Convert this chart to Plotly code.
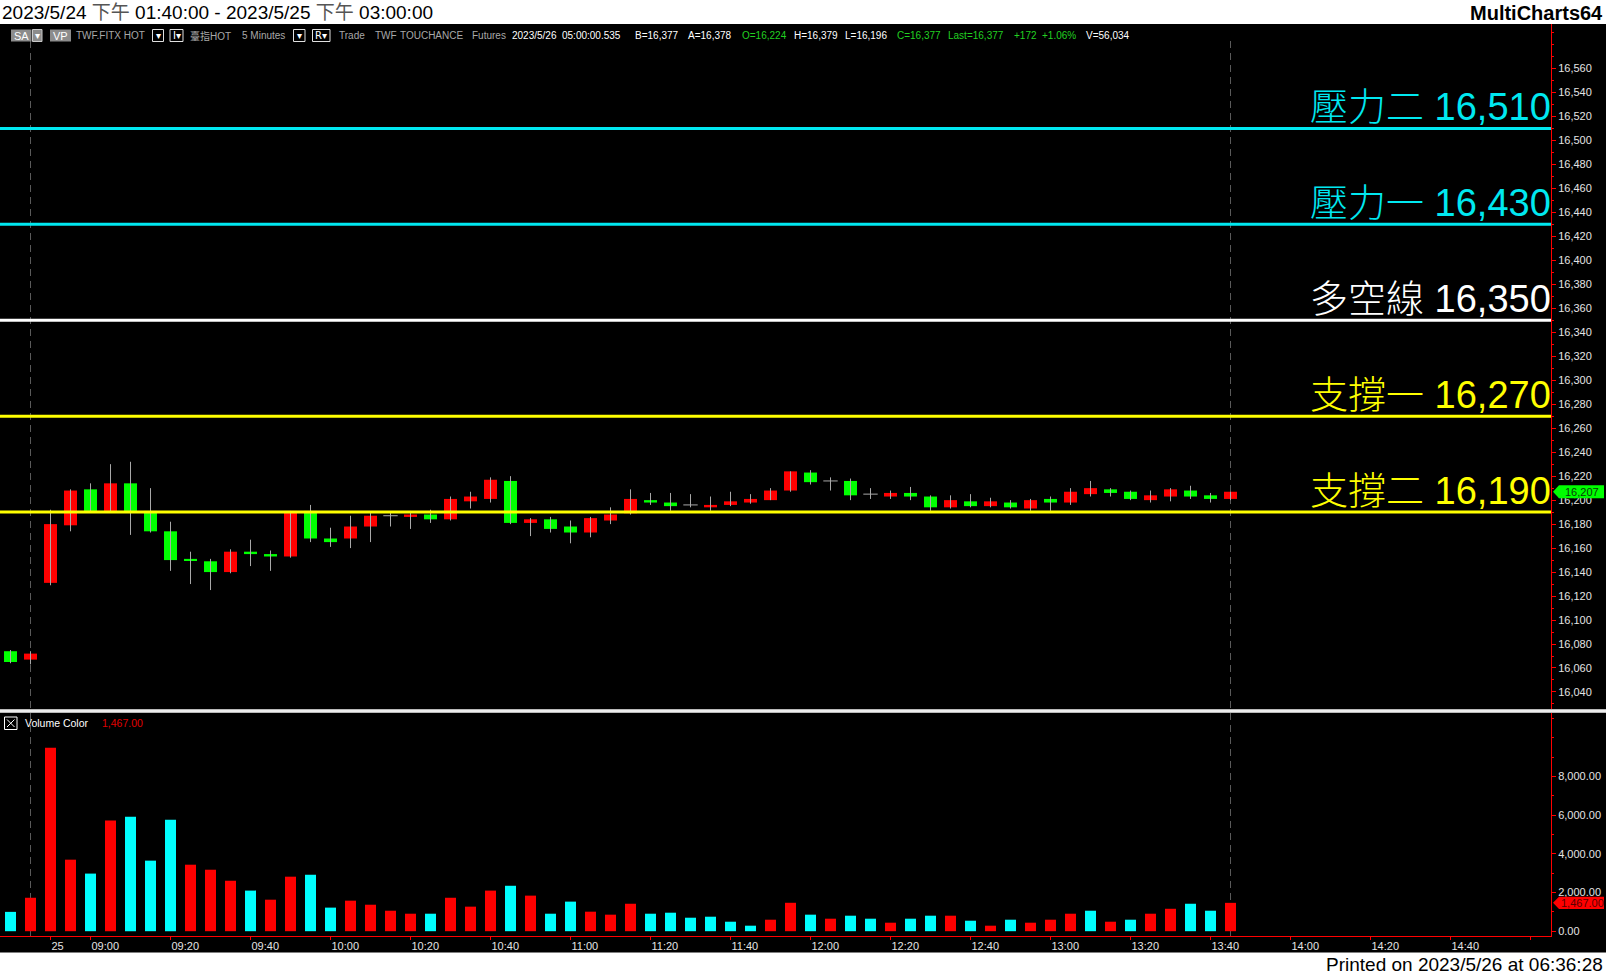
import plotly.graph_objects as go

# ---------------- data ----------------
opens = [16074,16067,16131,16179,16209,16191,16214,16191,16174,16151,
         16149,16140,16157,16155,16153,16191,16168,16168,16178,16187,
         16186,16188,16184,16199,16201,16216,16181,16184,16178,16173,
         16183,16189,16200,16198,16196,16194,16196,16198,16200,16208,
         16223,16216,16216,16205,16203,16206,16203,16194,16199,16195,
         16198,16193,16201,16198,16205,16209,16207,16200,16203,16208,
         16204,16201]
highs = [16075,16074,16192,16209,16214,16230,16232,16210,16182,16157,
         16151,16159,16167,16158,16191,16196,16177,16187,16190,16190,
         16191,16192,16203,16207,16219,16220,16185,16186,16183,16186,
         16194,16209,16206,16206,16205,16203,16207,16205,16210,16224,
         16225,16219,16218,16210,16208,16211,16204,16204,16205,16202,
         16200,16201,16203,16210,16216,16210,16208,16208,16210,16212,
         16206,16207]
lows = [16064,16063,16129,16174,16190,16190,16171,16173,16141,16130,
        16125,16139,16145,16141,16152,16165,16161,16160,16165,16178,
        16176,16181,16183,16193,16198,16180,16170,16173,16164,16169,
        16180,16188,16196,16191,16194,16191,16195,16197,16200,16207,
        16213,16208,16200,16201,16201,16200,16191,16193,16194,16194,
        16193,16191,16191,16196,16203,16203,16200,16198,16199,16201,
        16198,16200]
closes = [16065,16072,16180,16208,16191,16214,16191,16174,16150,16150,
          16140,16157,16155,16153,16191,16168,16165,16178,16187,16187,
          16188,16184,16201,16203,16217,16181,16184,16176,16173,16185,
          16188,16201,16198,16195,16196,16196,16199,16201,16208,16224,
          16215,16216,16204,16205,16206,16203,16194,16200,16195,16199,
          16194,16200,16198,16207,16210,16206,16201,16204,16209,16203,
          16201,16207]
volumes = [1000,1730,9490,3700,2980,5720,5920,3650,5770,3440,
           3180,2610,2100,1630,2820,2920,1220,1580,1370,1060,
           905,905,1730,1270,2100,2350,1840,905,1530,1010,
           855,1420,905,957,698,750,491,285,595,1470,
           855,647,802,647,440,647,802,802,543,285,
           595,440,595,905,1060,491,595,905,1160,1420,
           1060,1467]
vol_up = [0,1,1,1,0,1,0,0,0,1,
          1,1,0,1,1,0,0,1,1,1,
          1,0,1,1,1,0,1,0,0,1,
          1,1,0,0,0,0,0,0,1,1,
          0,1,0,0,1,0,0,1,0,1,
          0,1,1,1,0,1,0,1,1,0,
          0,1]
session_ends = [1, 61]
tick_idx = [2, 4, 8, 12, 16, 20, 24, 28, 32, 36, 40, 44, 48, 52, 56, 60, 64, 68, 72, 76]
tick_text = ["25", "09:00", "09:20", "09:40", "10:00", "10:20", "10:40", "11:00", "11:20",
             "11:40", "12:00", "12:20", "12:40", "13:00", "13:20", "13:40", "14:00", "14:20",
             "14:40", ""]
price_ticks = [16040,16060,16080,16100,16120,16140,16160,16180,16200,16220,16240,16260,16280,
               16300,16320,16340,16360,16380,16400,16420,16440,16460,16480,16500,16520,16540,16560]
vol_ticks = [0, 2000, 4000, 6000, 8000]
levels = [16510, 16430, 16350, 16270, 16190]
level_names = ["壓力二", "壓力一", "多空線", "支撐一", "支撐二"]
level_colors = ["#00e8f0", "#00e8f0", "#ffffff", "#ffff00", "#ffff00"]
last_price = closes[-1]
last_volume = volumes[-1]

# ---------------- layout helpers ----------------
W, H = 1606, 976
def fx(px): return px / W
def fy(py): return 1 - py / H

AXIS_X = 1551
X_RANGE = [-0.525, 77.025]
P_TOP, P_BOT = 24, 709
V_TOP, V_BOT = 713, 936
price_range = [16025.8, 16597.1]
vol_range = [-248, 11286]
p_ppu = (P_BOT - P_TOP) / (price_range[1] - price_range[0])
v_ppu = (V_BOT - V_TOP) / (vol_range[1] - vol_range[0])

RED, GREEN, CYAN, GRAY = "#ff0000", "#00ff00", "#00ffff", "#a8a8a8"
AX_FONT = dict(family="Liberation Sans, Arial", size=11, color="#e4e4e4")

idx = list(range(len(opens)))
body_base = [min(o, c) for o, c in zip(opens, closes)]
body_h = [abs(c - o) for o, c in zip(opens, closes)]
body_col = [RED if c > o else GREEN for o, c in zip(opens, closes)]

wx, wy = [], []
for i, (hh, ll, o, c) in enumerate(zip(highs, lows, opens, closes)):
    wx += [i, i, None]
    wy += [ll, hh, None]
    if o == c:
        wx += [i - 0.36, i + 0.36, None]
        wy += [o, o, None]

fig = go.Figure()
fig.add_trace(go.Scatter(x=wx, y=wy, mode="lines", line=dict(color=GRAY, width=1),
                         xaxis="x", yaxis="y", hoverinfo="skip"))
fig.add_trace(go.Bar(x=idx, y=body_h, base=body_base, width=0.65,
                     marker=dict(color=body_col, line=dict(width=0)), xaxis="x", yaxis="y"))
fig.add_trace(go.Bar(x=idx, y=volumes, width=0.55,
                     marker=dict(color=[RED if u else CYAN for u in vol_up], line=dict(width=0)),
                     xaxis="x", yaxis="y2"))

shapes = []
shapes.append(dict(type="rect", xref="paper", yref="paper", x0=0, x1=1, y0=fy(952.5), y1=fy(24),
                   fillcolor="black", line=dict(width=0), layer="below"))
for s in session_ends:
    shapes.append(dict(type="line", xref="x", yref="paper", x0=s, x1=s, y0=fy(V_BOT), y1=fy(P_TOP + 14),
                       line=dict(color="#5a5a5a", width=1, dash="7px,5px"), layer="below"))
shapes.append(dict(type="line", xref="paper", yref="paper", x0=0, x1=1, y0=fy(711), y1=fy(711),
                   line=dict(color="#b8b8b8", width=4)))
shapes.append(dict(type="line", xref="paper", yref="paper", x0=0, x1=1, y0=fy(711), y1=fy(711),
                   line=dict(color="#ffffff", width=1.5)))
for lv, col in zip(levels, level_colors):
    shapes.append(dict(type="line", xref="x domain", yref="y", x0=0, x1=1, y0=lv, y1=lv,
                       line=dict(color=col, width=3)))
hp = 6.5 / p_ppu
shapes.append(dict(type="path", xref="paper", yref="y",
                   path=f"M {fx(1553)} {last_price} L {fx(1559)} {last_price + hp} L {fx(1604)} {last_price + hp} "
                        f"L {fx(1604)} {last_price - hp} L {fx(1559)} {last_price - hp} Z",
                   fillcolor=GREEN, line=dict(width=0)))
hv = 6.2 / v_ppu
shapes.append(dict(type="path", xref="paper", yref="y2",
                   path=f"M {fx(1553)} {last_volume} L {fx(1559)} {last_volume + hv} L {fx(1604)} {last_volume + hv} "
                        f"L {fx(1604)} {last_volume - hv} L {fx(1559)} {last_volume - hv} Z",
                   fillcolor=RED, line=dict(width=0)))
def prect(x0, x1, y0, y1, fill=None, line=None):
    shapes.append(dict(type="rect", xref="paper", yref="paper", x0=fx(x0), x1=fx(x1), y0=fy(y1), y1=fy(y0),
                       fillcolor=fill if fill else "rgba(0,0,0,0)",
                       line=dict(color=line if line else "rgba(0,0,0,0)", width=1)))
prect(11, 31.5, 29.5, 41.5, fill="#8c8c8c")
prect(32.5, 42, 29.5, 41.5, fill="#8c8c8c", line="#c8c8c8")
prect(50, 71, 29.5, 41.5, fill="#8c8c8c")
for a, b in [(152.5, 163.5), (170, 183), (293.5, 305), (312.5, 330)]:
    prect(a, b, 29.5, 41.5, line="#e0e0e0")
prect(4.5, 17, 717, 729.5, line="#ffffff")
shapes.append(dict(type="line", xref="paper", yref="paper", x0=fx(7), x1=fx(14.5), y0=fy(719.5), y1=fy(727),
                   line=dict(color="white", width=1)))
shapes.append(dict(type="line", xref="paper", yref="paper", x0=fx(7), x1=fx(14.5), y0=fy(727), y1=fy(719.5),
                   line=dict(color="white", width=1)))

ann = []
def ptext(x, y, text, color, size=10, anchor="left", family="Liberation Sans, Arial, Noto Sans CJK TC", bold=False):
    ann.append(dict(x=fx(x), y=fy(y), xref="paper", yref="paper", xanchor=anchor, yanchor="middle",
                    text=f"<b>{text}</b>" if bold else text, showarrow=False,
                    font=dict(family=family, size=size, color=color), borderpad=0))

for lv, nm, col in zip(levels, level_names, level_colors):
    ann.append(dict(x=1, xref="x domain", y=lv, yref="y", xanchor="right", yanchor="bottom",
                    text=f"<span style='font-family:Noto Sans CJK TC;font-weight:300'>{nm}</span> {lv:,}",
                    showarrow=False, borderpad=0, yshift=-4, xshift=1,
                    font=dict(family="Liberation Sans, Arial, Noto Sans CJK TC", size=38, color=col)))

ptext(1, 12.5, "2023/5/24 <span style='color:#555'>下午</span> 01:40:00 - 2023/5/25 <span style='color:#555'>下午</span> 03:00:00",
      "#000000", size=19)
ptext(1604, 12.5, "MultiCharts64", "#000000", size=20, anchor="right", bold=True)
ptext(1604, 964.5, "Printed on 2023/5/26 at 06:36:28", "#000000", size=19, anchor="right")

TY = 35.5
GT, WT, GR = "#a8a8a8", "#ffffff", "#22d022"
ptext(13, TY, "SA", WT, size=11)
ptext(37.2, TY, "▾", WT, size=10, anchor="center", family="DejaVu Sans")
ptext(52, TY, "VP", WT, size=11)
ptext(75, TY, "TWF.FITX HOT", GT)
ptext(158, TY, "▾", WT, size=10, anchor="center", family="DejaVu Sans")
ptext(176.5, TY, "I▾", WT, size=10, anchor="center", family="DejaVu Sans")
ptext(189, TY, "臺指HOT", GT)
ptext(241, TY, "5 Minutes", GT)
ptext(299.2, TY, "▾", WT, size=10, anchor="center", family="DejaVu Sans")
ptext(321.2, TY, "R▾", WT, size=10, anchor="center", family="DejaVu Sans")
for x, t in [(337.5, "Trade"), (374, "TWF"), (399, "TOUCHANCE"), (471, "Futures")]:
    ptext(x, TY, t, GT)
for x, t, c in [(511, "2023/5/26", WT), (561, "05:00:00.535", WT), (634, "B=16,377", WT),
                (686.6, "A=16,378", WT), (741, "O=16,224", GR), (792.6, "H=16,379", WT),
                (844, "L=16,196", WT), (896, "C=16,377", GR), (947, "Last=16,377", GR),
                (1013, "+172", GR), (1041, "+1.06%", GR), (1085, "V=56,034", WT)]:
    ptext(x, TY, t, c)

ptext(24, 723.3, "Volume Color", WT, size=10.5)
ptext(100.5, 723.3, f"{last_volume:,.2f}", "#e00000", size=10.5)

ann.append(dict(x=fx(1582), xref="paper", y=last_price, yref="y", text=f"{last_price:,}", showarrow=False,
                font=dict(family="Liberation Sans, Arial", size=11, color="#0a3a0a"), xanchor="center", yanchor="middle"))
ann.append(dict(x=fx(1582), xref="paper", y=last_volume, yref="y2", text=f"{last_volume:,.2f}", showarrow=False,
                font=dict(family="Liberation Sans, Arial", size=11, color="#5a0000"), xanchor="center", yanchor="middle"))

fig.update_layout(
    width=W, height=H, margin=dict(l=0, r=0, t=0, b=0),
    paper_bgcolor="white", plot_bgcolor="black", showlegend=False,
    barmode="overlay", hovermode=False,
    xaxis=dict(domain=[0, fx(AXIS_X)], range=X_RANGE, anchor="y2", showgrid=False, zeroline=False,
               showline=True, linecolor=RED, linewidth=1, ticks="outside", ticklen=3, tickcolor=RED,
               tickvals=tick_idx, ticktext=tick_text, tickfont=AX_FONT, ticklabelposition="outside right",
               fixedrange=True),
    yaxis=dict(domain=[fy(P_BOT), fy(P_TOP)], range=price_range, anchor="x", side="right",
               showgrid=False, zeroline=False, showline=True, linecolor=RED, linewidth=1,
               ticks="outside", ticklen=4, tickcolor=RED, tickvals=price_ticks, tickformat=",",
               tickfont=AX_FONT, minor=dict(dtick=10, tick0=16040, ticks="outside", ticklen=2, tickcolor=RED)),
    yaxis2=dict(domain=[fy(V_BOT), fy(V_TOP)], range=vol_range, anchor="x", side="right",
                showgrid=False, zeroline=False, showline=True, linecolor=RED, linewidth=1,
                ticks="outside", ticklen=4, tickcolor=RED, tickvals=vol_ticks, tickformat=",.2f",
                tickfont=AX_FONT, minor=dict(dtick=1000, tick0=0, ticks="outside", ticklen=2, tickcolor=RED)),
    shapes=shapes, annotations=ann,
)

fig.write_html("out.html", config={"displayModeBar": False},
               post_script="document.body.style.margin='0';document.body.style.overflow='hidden';")
